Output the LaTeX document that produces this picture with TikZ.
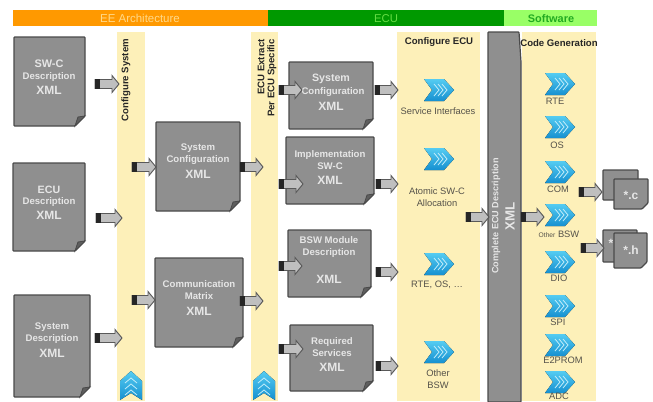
\documentclass[tikz,border=0pt]{standalone}
\usepackage{fontspec}
\setmainfont{Liberation Sans}
\definecolor{docgray}{HTML}{8F8F8F}
\definecolor{docedge}{HTML}{4A4A4A}
\definecolor{foldgray}{HTML}{5E5E5E}
\definecolor{colcream}{HTML}{FDF0B9}
\definecolor{hdorange}{HTML}{FF9900}
\definecolor{hdgreen}{HTML}{009900}
\definecolor{hdlime}{HTML}{99FF66}
\definecolor{hdtextA}{HTML}{FFD98A}
\definecolor{hdtextB}{HTML}{66DD44}
\definecolor{hdtextC}{HTML}{22AA22}
\definecolor{chevtop}{HTML}{55CCF2}
\definecolor{chevbot}{HTML}{1590D0}
\definecolor{labelgray}{HTML}{E6E6E6}
\definecolor{steptext}{HTML}{55524A}
\tikzset{
  x=0.75pt,y=-0.75pt,
  colband/.style={fill=colcream,draw=none},
  docshape/.style={fill=docgray,draw=docedge,line width=0.9pt,rounded corners=0.6pt},
  foldshape/.style={fill=foldgray,draw=docedge,line width=0.6pt},
  doctitle/.style={text=labelgray,font=\bfseries\fontsize{7.2}{9}\selectfont,align=center,inner sep=0pt},
  docxml/.style={text=labelgray,font=\bfseries\fontsize{9}{10}\selectfont,inner sep=0pt},
  steplabel/.style={text=steptext,font=\fontsize{7}{9}\selectfont,align=center,inner sep=0pt},
  headtitle/.style={font=\bfseries\fontsize{7.2}{8}\selectfont,text=black!85,inner sep=0pt},
  arrowbody/.style={fill=black!25,draw=black!65,line width=0.7pt,line join=miter},
  arrowtail/.style={fill=black!85,draw=none},
  chevshape/.style={top color=chevtop,bottom color=chevbot,draw=none},
  chevinner/.style={draw=white!65!chevtop,line width=0.6pt},
}
% \docnode{name}{x0}{y0}{x1}{y1}
\newcommand{\docnode}[5]{%
  \draw[docshape] (#2,#3) -- (#4,#3) -- (#4,#5-10) -- (#4-10,#5) -- (#2,#5) -- cycle;
  \draw[foldshape] (#4,#5-10) -- (#4-7,#5-9) -- (#4-10,#5) -- cycle;
  \coordinate (#1) at ({(#2+#4)/2},{(#3+#5)/2});
}
% \blockarrow{name}{x0}{y}{x1}
\newcommand{\blockarrow}[4]{%
  \draw[arrowbody] (#2,#3-4.5) -- (#4-7,#3-4.5) -- (#4-7,#3-8.5) -- (#4,#3) -- (#4-7,#3+8.5) -- (#4-7,#3+4.5) -- (#2,#3+4.5) -- cycle;
  \fill[arrowtail] (#2,#3-5) rectangle (#2+5,#3+5);
  \coordinate (#1) at (#4,#3);
}
% \chevron{name}{cx}{cy}
\newcommand{\chevron}[3]{%
  \fill[chevshape] (#2-15,#3-11) -- (#2+5,#3-11) -- (#2+15,#3) -- (#2+5,#3+11) -- (#2-15,#3+11) -- (#2-7,#3) -- cycle;
  \foreach \dx in {-3,1,5}{\draw[chevinner] (#2+\dx-2,#3-6) -- (#2+\dx+3,#3) -- (#2+\dx-2,#3+6);}
  \coordinate (#1) at (#2,#3);
}
% \uptag{name}{cx}
\newcommand{\uptag}[2]{%
  \fill[chevshape] (#2-11,381) -- (#2,371) -- (#2+11,381) -- (#2+11,400) -- (#2,393) -- (#2-11,400) -- cycle;
  \foreach \dy in {383,389,395}{\draw[chevinner] (#2-6,\dy) -- (#2,\dy-5) -- (#2+6,\dy);}
  \coordinate (#1) at (#2,385);
}
\begin{document}
\begin{tikzpicture}
\useasboundingbox (0,0) rectangle (653,401);
% header bars
\fill[hdorange] (13,10) rectangle (268,26);
\fill[hdgreen] (268,10) rectangle (504,26);
\fill[hdlime] (504,10) rectangle (597,26);
\node[font=\fontsize{8.6}{9}\selectfont,text=hdtextA,inner sep=0pt] (hEE) at (140,18.5) {EE Architecture};
\node[font=\fontsize{8.5}{9}\selectfont,text=hdtextB,inner sep=0pt] (hECU) at (386,18.5) {ECU};
\node[font=\bfseries\fontsize{8.2}{9}\selectfont,text=hdtextC,inner sep=0pt] (hSW) at (551,18.5) {Software};
% columns
\fill[colband] (117,32) rectangle (145,401);
\fill[colband] (251,32) rectangle (278,401);
\fill[colband] (397,32) rectangle (480,401);
\fill[colband] (522,32) rectangle (596,401);
\node[headtitle,rotate=90] (cfgsys) at (126,80) {Configure System};
\node[headtitle,rotate=90] (ext1) at (261,67) {ECU Extract};
\node[headtitle,rotate=90] (ext2) at (272,78) {Per ECU Specific};
\node[headtitle] (cfgecu) at (439,42) {Configure ECU};
\node[headtitle] (codegen) at (559,43) {Code Generation};
\uptag{tagA}{131}
\uptag{tagB}{264}
% documents
\docnode{swc}{14}{37}{85}{126}
\node[doctitle,font=\bfseries\fontsize{8.2}{10}\selectfont] at (49,64) {SW-C};
\node[doctitle] at (49,77) {Description};
\node[docxml] at (49,90) {XML};
\docnode{ecu}{13}{163}{85}{251}
\node[doctitle,font=\bfseries\fontsize{8}{10}\selectfont] at (49,190) {ECU};
\node[doctitle] at (49,202) {Description};
\node[docxml] at (49,215) {XML};
\docnode{sysd}{14}{295}{90}{397}
\node[doctitle] at (52,333.5) {System\\Description};
\node[docxml] at (52,353) {XML};
\docnode{sysc}{156}{122}{240}{211}
\node[doctitle] at (198,154) {System\\Configuration};
\node[docxml] at (198,174) {XML};
\docnode{comm}{155}{258}{243}{347}
\node[doctitle] at (199,290.5) {Communication\\Matrix};
\node[docxml] at (199,311) {XML};
\docnode{sysc2}{289}{62}{373}{129}
\node[doctitle,font=\bfseries\fontsize{8}{10}\selectfont] at (331,79) {System};
\node[doctitle] at (333,92) {Configuration};
\node[docxml] at (331,106) {XML};
\docnode{impl}{286}{137}{374}{204}
\node[doctitle] at (330,160) {Implementation\\SW-C};
\node[docxml] at (330,180) {XML};
\docnode{bsw}{288}{230}{371}{297}
\node[doctitle] at (329,247) {BSW Module\\Description};
\node[docxml] at (329,279) {XML};
\docnode{req}{290}{325}{373}{391}
\node[doctitle] at (332,347) {Required\\Services};
\node[docxml] at (332,367) {XML};
% complete ECU description
\draw[docshape] (488,32) -- (519,32) -- (521,62) -- (521,402) -- (488,402) -- cycle;
\node[doctitle,rotate=90,font=\bfseries\fontsize{6.8}{8}\selectfont] (cecu) at (496,216) {Complete ECU Description};
\node[docxml,rotate=90,font=\bfseries\fontsize{10}{11}\selectfont] (cxml) at (510,216) {XML};
% blue chevrons, Configure ECU
\chevron{c1}{439}{90}
\node[steplabel] at (438,111) {Service Interfaces};
\chevron{c2}{439}{159}
\node[steplabel] at (437,197) {Atomic SW-C\\Allocation};
\chevron{c3}{439}{264}
\node[steplabel] at (437,285) {RTE, OS, \dots};
\chevron{c4}{439}{352}
\node[steplabel] at (438,379) {Other\\BSW};
% blue chevrons, Code Generation
\chevron{g1}{560}{84}
\node[steplabel] at (555,101) {RTE};
\chevron{g2}{560}{127}
\node[steplabel] at (557,145) {OS};
\chevron{g3}{560}{172}
\node[steplabel] at (558,189) {COM};
\chevron{g4}{560}{215}
\node[steplabel] at (559,234) {{\fontsize{5}{6}\selectfont Other} BSW};
\chevron{g5}{560}{262}
\node[steplabel] at (559,278) {DIO};
\chevron{g6}{560}{306}
\node[steplabel] at (558,322) {SPI};
\chevron{g7}{560}{345}
\node[steplabel] at (563,360) {E2PROM};
\chevron{g8}{560}{382}
\node[steplabel] at (559,396) {ADC};
% output files
\draw[docshape] (603,170) rectangle (638,200);
\draw[docshape] (614,179) -- (648,179) -- (648,203) -- (642,209) -- (614,209) -- cycle;
\node[docxml] (cfile) at (631,195) {*.c};
\draw[docshape] (603,230) rectangle (637,262);
\node[docxml] (hback) at (611,243) {*};
\draw[docshape] (614,233) -- (647,233) -- (647,262) -- (641,268) -- (614,268) -- cycle;
\node[docxml] (hfile) at (631,250) {*.h};
% block arrows
\blockarrow{a1}{95}{84}{119}
\blockarrow{a2}{96}{218}{122}
\blockarrow{a3}{95}{338}{122}
\blockarrow{a4}{132}{167}{156}
\blockarrow{a5}{132}{300}{155}
\blockarrow{a6}{240}{167}{263}
\blockarrow{a7}{240}{301}{263}
\blockarrow{a8}{279}{90}{302}
\blockarrow{a9}{279}{184}{303}
\blockarrow{a10}{279}{266}{302}
\blockarrow{a11}{279}{349}{303}
\blockarrow{a12}{375}{90}{398}
\blockarrow{a13}{376}{184}{398}
\blockarrow{a14}{376}{272}{398}
\blockarrow{a15}{376}{366}{398}
\blockarrow{a16}{466}{217}{489}
\blockarrow{a17}{521}{217}{544}
\blockarrow{a18}{579}{192}{602}
\blockarrow{a19}{581}{248}{604}
\end{tikzpicture}
\end{document}
